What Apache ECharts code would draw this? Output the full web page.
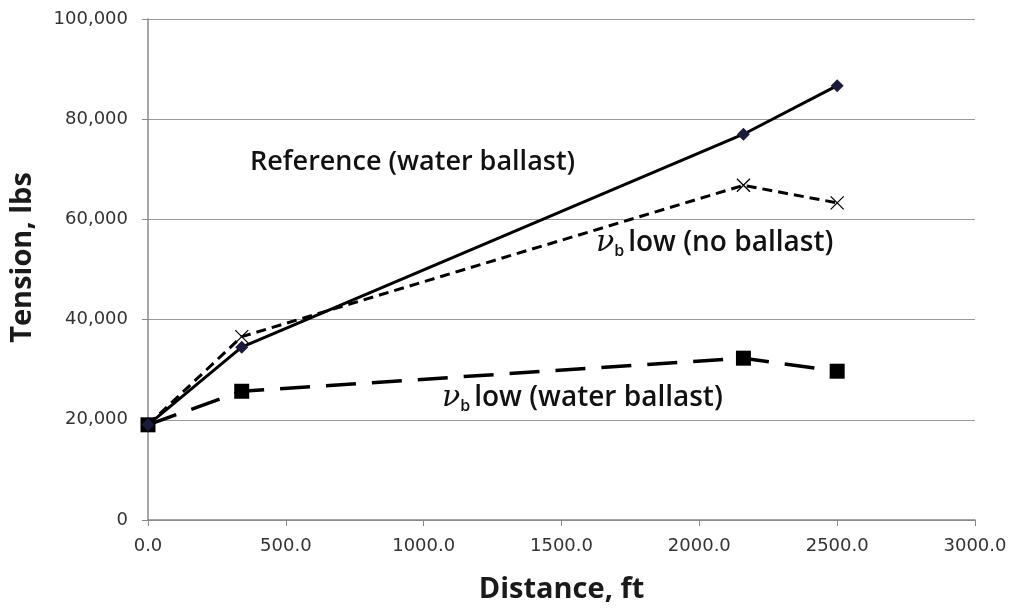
<!DOCTYPE html>
<html>
<head>
<meta charset="utf-8">
<script src="https://cdn.jsdelivr.net/npm/echarts@6/dist/echarts.min.js"></script>
<style>
  html, body { margin: 0; padding: 0; background: #fff; }
  #chart { width: 1011px; height: 609px; }
</style>
</head>
<body>
<div id="chart"></div>
<script>
// Distance along the line (ft) and tension (lbs) for each case
const refDistance = [0, 340, 2160, 2500];
const refTension = [19000, 34500, 77000, 86700];

const noBallastDistance = [0, 340, 2160, 2500];
const noBallastTension = [19000, 36600, 66800, 63300];

const waterBallastDistance = [0, 340, 2160, 2500];
const waterBallastTension = [19000, 25700, 32300, 29700];

const seriesNames = ['Reference (water ballast)', 'νb low (no ballast)', 'νb low (water ballast)'];

function pairs(xs, ys) { return xs.map((x, i) => [x, ys[i]]); }

const crossPath = 'path://M0,0L10,10M10,0L0,10';
const font = '"Open Sans", "Liberation Sans", sans-serif';
const tickFont = '"DejaVu Sans", sans-serif';

// rich text pieces for the "ν_b low (...)" labels
const nuRich = {
  v: { font: 'italic 30px "DejaVu Serif", serif', fill: '#111' },
  s: { font: '600 16px ' + font, fill: '#111', padding: [16, 4, 0, 0] },
  t: { font: '600 28px ' + font, fill: '#111' }
};

const chart = echarts.init(document.getElementById('chart'), null, { renderer: 'canvas' });

chart.setOption({
  animation: false,
  backgroundColor: '#fff',
  grid: { left: 148, right: 36, top: 19, bottom: 88 },
  xAxis: {
    type: 'value', min: 0, max: 3000, interval: 500,
    name: 'Distance, ft', nameLocation: 'middle', nameGap: 55,
    nameTextStyle: { fontFamily: font, fontSize: 29, fontWeight: 'bold', color: '#1a1a1a' },
    axisLine: { show: true, onZero: false, lineStyle: { color: '#888', width: 1.5 } },
    axisTick: { show: true, length: 6, lineStyle: { color: '#888' } },
    axisLabel: { fontFamily: tickFont, fontSize: 18, color: '#333', margin: 17,
      formatter: v => v.toFixed(1) },
    splitLine: { show: false }
  },
  yAxis: {
    type: 'value', min: 0, max: 100000, interval: 20000,
    name: 'Tension, lbs', nameLocation: 'middle', nameGap: 111,
    nameTextStyle: { fontFamily: font, fontSize: 29, fontWeight: 'bold', color: '#1a1a1a', padding: [0, 0, 0, 24] },
    axisLine: { show: true, lineStyle: { color: '#888', width: 1.5 } },
    axisTick: { show: true, length: 6, lineStyle: { color: '#888' } },
    axisLabel: { fontFamily: tickFont, fontSize: 18, color: '#333', margin: 20,
      formatter: v => v.toLocaleString('en-US') },
    splitLine: { show: true, lineStyle: { color: '#999', width: 1.2 } }
  },
  series: [
    {
      name: seriesNames[0], type: 'line', data: pairs(refDistance, refTension),
      lineStyle: { color: '#000', width: 3, type: 'solid' },
      symbol: 'diamond', symbolSize: 13,
      itemStyle: { color: '#1a1a3a' }, z: 3
    },
    {
      name: seriesNames[1], type: 'line', data: pairs(noBallastDistance, noBallastTension),
      lineStyle: { color: '#000', width: 3, type: [10, 6] },
      symbol: crossPath, symbolSize: 13,
      itemStyle: { color: 'none', borderColor: '#000', borderWidth: 1.3 }, z: 2
    },
    {
      name: seriesNames[2], type: 'line', data: pairs(waterBallastDistance, waterBallastTension),
      lineStyle: { color: '#000', width: 3.5, type: [30, 16] },
      symbol: 'rect', symbolSize: 15,
      itemStyle: { color: '#000' }, z: 2
    }
  ],
  graphic: [
    { type: 'text', x: 250, y: 162,
      style: { text: 'Reference (water ballast)', font: '600 27px ' + font, fill: '#111', verticalAlign: 'middle' } },
    { type: 'text', x: 596, y: 243,
      style: { text: '{v|ν}{s|b}{t|low (no ballast)}', rich: nuRich, verticalAlign: 'middle' } },
    { type: 'text', x: 442, y: 398,
      style: { text: '{v|ν}{s|b}{t|low (water ballast)}', rich: nuRich, verticalAlign: 'middle' } }
  ]
});
</script>
</body>
</html>
